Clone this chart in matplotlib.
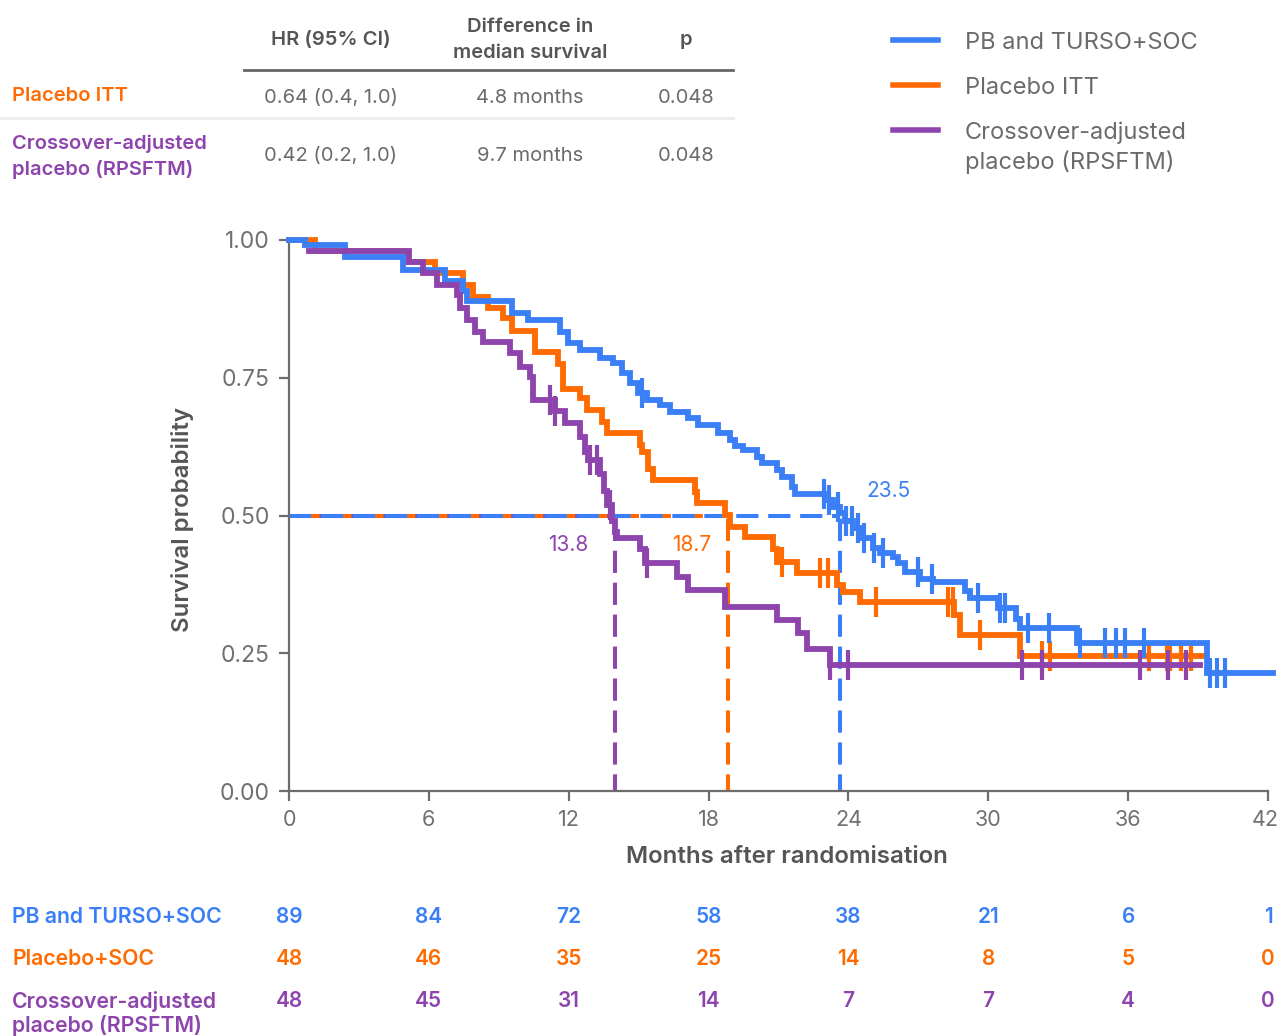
import numpy as np
import matplotlib
matplotlib.use("Agg")
import matplotlib.pyplot as plt
from matplotlib.lines import Line2D
from matplotlib.transforms import blended_transform_factory, ScaledTranslation

plt.rcParams['font.family'] = ['Inter', 'DejaVu Sans']
plt.rcParams['lines.scale_dashes'] = False

BLUE = '#3a7ff6'
ORANGE = '#ff6b00'
PURPLE = '#8e44ad'
GRAY = '#6b6b6b'
DARK = '#555555'

# ---------------- data ----------------
blue_t = [0, 0.69, 2.40, 4.89, 6.69, 7.46, 7.64, 9.57, 10.25, 11.63, 11.97, 12.48, 13.34, 13.90,
          14.29, 14.63, 14.97, 15.36, 15.92, 16.34, 17.12, 17.55, 18.40, 18.92, 19.13, 19.48,
          20.08, 20.29, 20.94, 21.15, 21.58, 21.71, 23.0, 23.34, 23.64, 23.85, 24.2, 24.6, 25.05,
          25.35, 25.9, 26.13, 26.43, 27.07, 27.63, 29.0, 29.2, 30.4, 31.2, 31.36, 33.8, 39.4]
blue_s = [1.0, 0.991, 0.969, 0.946, 0.926, 0.907, 0.889, 0.868, 0.855, 0.833, 0.813, 0.800, 0.786,
          0.777, 0.759, 0.740, 0.722, 0.710, 0.700, 0.688, 0.677, 0.664, 0.650, 0.637, 0.626,
          0.619, 0.606, 0.595, 0.582, 0.570, 0.552, 0.539, 0.528, 0.515, 0.504, 0.490, 0.477,
          0.459, 0.441, 0.432, 0.425, 0.413, 0.397, 0.385, 0.379, 0.363, 0.350, 0.332, 0.312,
          0.296, 0.269, 0.214]
blue_end = 42.2
blue_cens = [15.14, 22.95, 23.15, 23.55, 23.9, 24.15, 24.4, 24.65, 25.1, 25.5, 27.0, 27.6, 29.56,
             30.5, 30.7, 31.7, 32.6, 33.93, 35.0, 35.5, 35.85, 36.7, 39.5, 39.8, 40.15]

orange_t = [0, 1.12, 4.98, 6.26, 7.46, 7.89, 8.54, 9.18, 9.57, 10.55, 11.54, 11.75, 12.48, 12.78,
            13.43, 13.64, 15.06, 15.14, 15.4, 15.62, 17.42, 17.5, 18.7, 18.92, 19.56, 20.78,
            20.92, 21.8, 23.5, 23.77, 24.5, 28.53, 28.79, 31.36]
orange_s = [1.0, 0.98, 0.96, 0.94, 0.918, 0.896, 0.876, 0.858, 0.835, 0.797, 0.775, 0.73, 0.714,
            0.691, 0.670, 0.650, 0.628, 0.615, 0.584, 0.564, 0.543, 0.523, 0.501, 0.479, 0.461,
            0.44, 0.416, 0.396, 0.374, 0.361, 0.343, 0.32, 0.283, 0.245]
orange_end = 39.2
orange_cens = [21.15, 22.78, 23.12, 25.2, 28.27, 28.49, 29.64, 32.3, 32.65, 36.9, 37.67, 37.8,
               38.27, 38.7]

purple_t = [0.86, 5.15, 5.75, 6.35, 7.21, 7.34, 7.64, 7.98, 8.32, 9.48, 9.91, 10.34, 10.47, 11.41,
            11.84, 12.48, 12.7, 12.83, 13.34, 13.51, 13.64, 13.86, 13.99, 14.07, 15.06, 15.27,
            16.65, 17.12, 18.7, 20.94, 21.84, 22.22, 23.2]
purple_s = [0.98, 0.96, 0.94, 0.918, 0.9, 0.877, 0.855, 0.833, 0.815, 0.795, 0.77, 0.752, 0.71,
            0.69, 0.668, 0.643, 0.615, 0.6, 0.575, 0.545, 0.519, 0.49, 0.47, 0.46, 0.44, 0.414,
            0.388, 0.365, 0.334, 0.31, 0.287, 0.258, 0.229]
purple_end = 39.1
purple_cens = [11.2, 11.41, 12.9, 13.2, 13.77, 15.36, 23.2, 23.98, 31.45, 32.3, 36.5, 37.7, 38.5]

median_pos = [14.0, 18.85, 23.65]          # purple, orange, blue (drawn positions)
median_labels = ['13.8', '18.7', '23.5']

risk_times = [0, 6, 12, 18, 24, 30, 36, 42]
risk_blue = [89, 84, 72, 58, 38, 21, 6, 1]
risk_orange = [48, 46, 35, 25, 14, 8, 5, 0]
risk_purple = [48, 45, 31, 14, 7, 7, 4, 0]

legend_labels = ['PB and TURSO+SOC', 'Placebo ITT', 'Crossover-adjusted\nplacebo (RPSFTM)']
risk_labels = ['PB and TURSO+SOC', 'Placebo+SOC', 'Crossover-adjusted\nplacebo (RPSFTM)']

tbl_header = ['HR (95% CI)', 'Difference in\nmedian survival', 'p']
tbl_rows = ['Placebo ITT', 'Crossover-adjusted\nplacebo (RPSFTM)']
tbl_hr = ['0.64 (0.4, 1.0)', '0.42 (0.2, 1.0)']
tbl_diff = ['4.8 months', '9.7 months']
tbl_p = ['0.048', '0.048']

# ---------------- figure ----------------
W, H = 1279, 1036
fig = plt.figure(figsize=(W / 100, H / 100), dpi=100)


def fx(px):
    return px / W


def fy(py):
    return 1 - py / H


ax = fig.add_axes([fx(289), fy(791), fx(1268) - fx(289), fy(240) - fy(791)])
ax.set_xlim(0, 42)
ax.set_ylim(0, 1.0)

# median guide lines
for pos, col, off in [(median_pos[0], PURPLE, 11), (median_pos[1], ORANGE, 17), (median_pos[2], BLUE, 0)]:
    ax.plot([0, pos], [0.5, 0.5], color=col, lw=2.9, linestyle=(off, (16, 7)), zorder=2,
            dash_capstyle='butt')
for pos, col in [(median_pos[0], PURPLE), (median_pos[1], ORANGE), (median_pos[2], BLUE)]:
    ax.plot([pos, pos], [0, 0.5], color=col, lw=2.9, linestyle=(4, (16, 7)), zorder=2,
            dash_capstyle='butt')


def draw_km(t, s, end, cens, col, z):
    tt = list(t) + [end]
    ss = list(s) + [s[-1]]
    ax.step(tt, ss, where='post', color=col, lw=4.2, zorder=z, clip_on=False,
            solid_joinstyle='miter')
    t_arr = np.array(t)
    idx = np.searchsorted(t_arr, np.array(cens), side='right') - 1
    cy = np.array(s)[idx]
    ax.plot(cens, cy, linestyle='none', marker='|', markersize=21, markeredgewidth=3.0,
            color=col, zorder=z, clip_on=False)


draw_km(orange_t, orange_s, orange_end, orange_cens, ORANGE, 3)
draw_km(blue_t, blue_s, blue_end, blue_cens, BLUE, 4)
draw_km(purple_t, purple_s, purple_end, purple_cens, PURPLE, 5)

# median labels
ax.text(23.65 + 1.1, 0.545, median_labels[2], color=BLUE, fontsize=15, ha='left', va='center')
ax.text(18.85 - 0.75, 0.447, median_labels[1], color=ORANGE, fontsize=15, ha='right', va='center')
ax.text(14.0 - 1.15, 0.447, median_labels[0], color=PURPLE, fontsize=15, ha='right', va='center')

# axes styling
for sp in ['top', 'right']:
    ax.spines[sp].set_visible(False)
for sp in ['left', 'bottom']:
    ax.spines[sp].set_color('#6d6d6d')
    ax.spines[sp].set_linewidth(1.6)
ax.set_xticks(risk_times)
ax.set_xticklabels([str(v) for v in risk_times])
ax.set_yticks([0, 0.25, 0.5, 0.75, 1.0])
ax.set_yticklabels(['0.00', '0.25', '0.50', '0.75', '1.00'])
ax.tick_params(axis='both', colors='#6d6d6d', labelcolor='#707070', length=7, width=1.6)
ax.tick_params(axis='x', pad=7, labelsize=15.5)
ax.tick_params(axis='y', pad=7, labelsize=16.5)
last = ax.get_xticklabels()[-1]
last.set_transform(last.get_transform() + ScaledTranslation(-3 / 100, 0, fig.dpi_scale_trans))

fig.text(fx(787), fy(857), 'Months after randomisation', ha='center', va='center',
         fontsize=17.3, fontweight='semibold', color=DARK)
fig.text(fx(183), fy(519), 'Survival probability', ha='center', va='center', rotation=90,
         fontsize=17.3, fontweight='semibold', color=DARK)

# risk table
tr = blended_transform_factory(ax.transData, fig.transFigure)
for vals, col, py, lab in [(risk_blue, BLUE, 917, risk_labels[0]),
                           (risk_orange, ORANGE, 959, risk_labels[1]),
                           (risk_purple, PURPLE, 1001, risk_labels[2])]:
    for t, v in zip(risk_times, vals):
        ax.text(t, fy(py), str(v), transform=tr, color=col, fontsize=15, fontweight='semibold',
                ha='center', va='center', clip_on=False)
    fig.text(fx(12), fy(py - 10), lab, color=col, fontsize=15.3, fontweight='semibold',
             ha='left', va='top', linespacing=1.2)

# legend (manual)
for col, py, lab in [(BLUE, 40, legend_labels[0]), (ORANGE, 85, legend_labels[1]),
                     (PURPLE, 130, legend_labels[2])]:
    fig.add_artist(Line2D([fx(893), fx(938)], [fy(py), fy(py)], color=col, lw=4.0))
    fig.text(fx(965), fy(py - 8), lab, color=GRAY, fontsize=17, ha='left', va='top',
             linespacing=1.3)

# top table
col_x = [331, 530, 686]
fig.text(fx(col_x[0]), fy(40), tbl_header[0], ha='center', va='center', fontsize=14.5,
         fontweight='semibold', color=DARK)
fig.text(fx(col_x[1]), fy(40), tbl_header[1], ha='center', va='center', fontsize=14.5,
         fontweight='semibold', color=DARK, linespacing=1.6)
fig.text(fx(col_x[2]), fy(40), tbl_header[2], ha='center', va='center', fontsize=14.5,
         fontweight='semibold', color=DARK)
fig.add_artist(Line2D([fx(244), fx(733)], [fy(70), fy(70)], color='#666666', lw=2.0))
fig.add_artist(Line2D([fx(0), fx(733)], [fy(118), fy(118)], color='#eeeeee', lw=2.2))

row_cols = [ORANGE, PURPLE]
row_y = [98, 156]
for i in range(2):
    if i == 0:
        fig.text(fx(12), fy(96), tbl_rows[i], ha='left', va='center', fontsize=14.5,
                 fontweight='semibold', color=row_cols[i])
    else:
        fig.text(fx(12), fy(157), tbl_rows[i], ha='left', va='center', fontsize=14.5,
                 fontweight='semibold', color=row_cols[i], linespacing=1.45)
    fig.text(fx(col_x[0]), fy(row_y[i]), tbl_hr[i], ha='center', va='center', fontsize=14.5,
             color=GRAY)
    fig.text(fx(col_x[1]), fy(row_y[i]), tbl_diff[i], ha='center', va='center', fontsize=14.5,
             color=GRAY)
    fig.text(fx(col_x[2]), fy(row_y[i]), tbl_p[i], ha='center', va='center', fontsize=14.5,
             color=GRAY)

fig.savefig('out.png', dpi=100, facecolor='white')
